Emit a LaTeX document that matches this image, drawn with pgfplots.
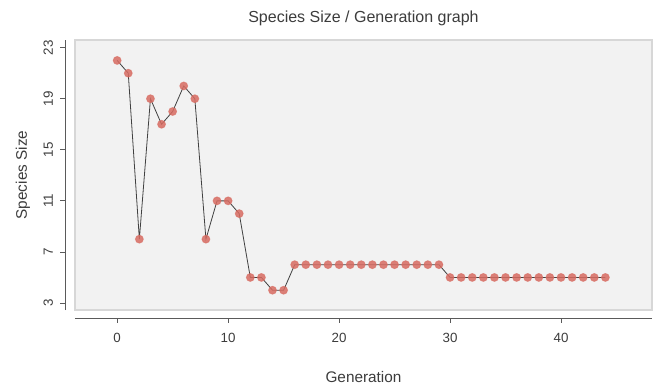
\documentclass[border=0pt]{standalone}
\usepackage{pgfplots}
\pgfplotsset{compat=1.18}
\usepackage{fontspec}
\setmainfont{Liberation Sans}
\definecolor{txt}{RGB}{60,60,60}
\definecolor{axln}{RGB}{90,90,90}
\definecolor{panel}{RGB}{242,242,242}
\definecolor{pborder}{RGB}{215,215,215}
\definecolor{dot}{RGB}{216,108,98}
\begin{document}
\begin{tikzpicture}
\path[use as bounding box] (-56.25pt,-57pt) rectangle (442.5pt,232.5pt);
\begin{axis}[
  scale only axis,
  width=432.75pt, height=202.5pt,
  at={(0,0)}, anchor=south west,
  xmin=-3.8, xmax=48.2, ymin=2.45, ymax=23.6,
  axis x line*=bottom, axis y line*=left,
  axis x line shift=6pt, axis y line shift=7.5pt,
  axis line style={draw=axln, line width=0.6pt, -},
  axis background/.style={fill=panel, draw=pborder, line width=0.8pt},
  xtick={0,10,20,30,40}, ytick={3,7,11,15,19,23},
  tick align=outside, major tick length=3.5pt,
  tick style={draw=axln, line width=0.6pt},
  /pgf/number format/assume math mode=true,
  ticklabel style={font=\fontsize{10}{12}\selectfont, text=txt},
  xticklabel style={yshift=-4.5pt},
  yticklabel style={rotate=90, anchor=south, yshift=2pt},
  title={Species Size / Generation graph},
  title style={font=\fontsize{12}{14}\selectfont, text=txt, at={(0.5,1)}, anchor=base, yshift=7.5pt},
  xlabel={Generation},
  xlabel style={font=\fontsize{11.5}{13}\selectfont, text=txt, at={(0.5,0)}, anchor=base, yshift=-54pt},
  ylabel={Species Size},
  ylabel style={font=\fontsize{11.5}{13}\selectfont, text=txt, at={(0,0.5)}, anchor=base, yshift=36pt},
]
\addplot[color=black!75, line width=0.6pt, mark=*, mark size=3pt,
  mark options={draw=dot, fill=dot, fill opacity=0.85, draw opacity=0.6}]
coordinates {
(0,22)(1,21)(2,8)(3,19)(4,17)(5,18)(6,20)(7,19)(8,8)(9,11)(10,11)(11,10)
(12,5)(13,5)(14,4)(15,4)
(16,6)(17,6)(18,6)(19,6)(20,6)(21,6)(22,6)(23,6)(24,6)(25,6)(26,6)(27,6)(28,6)(29,6)
(30,5)(31,5)(32,5)(33,5)(34,5)(35,5)(36,5)(37,5)(38,5)(39,5)(40,5)(41,5)(42,5)(43,5)(44,5)
};
\end{axis}
\end{tikzpicture}
\end{document}
